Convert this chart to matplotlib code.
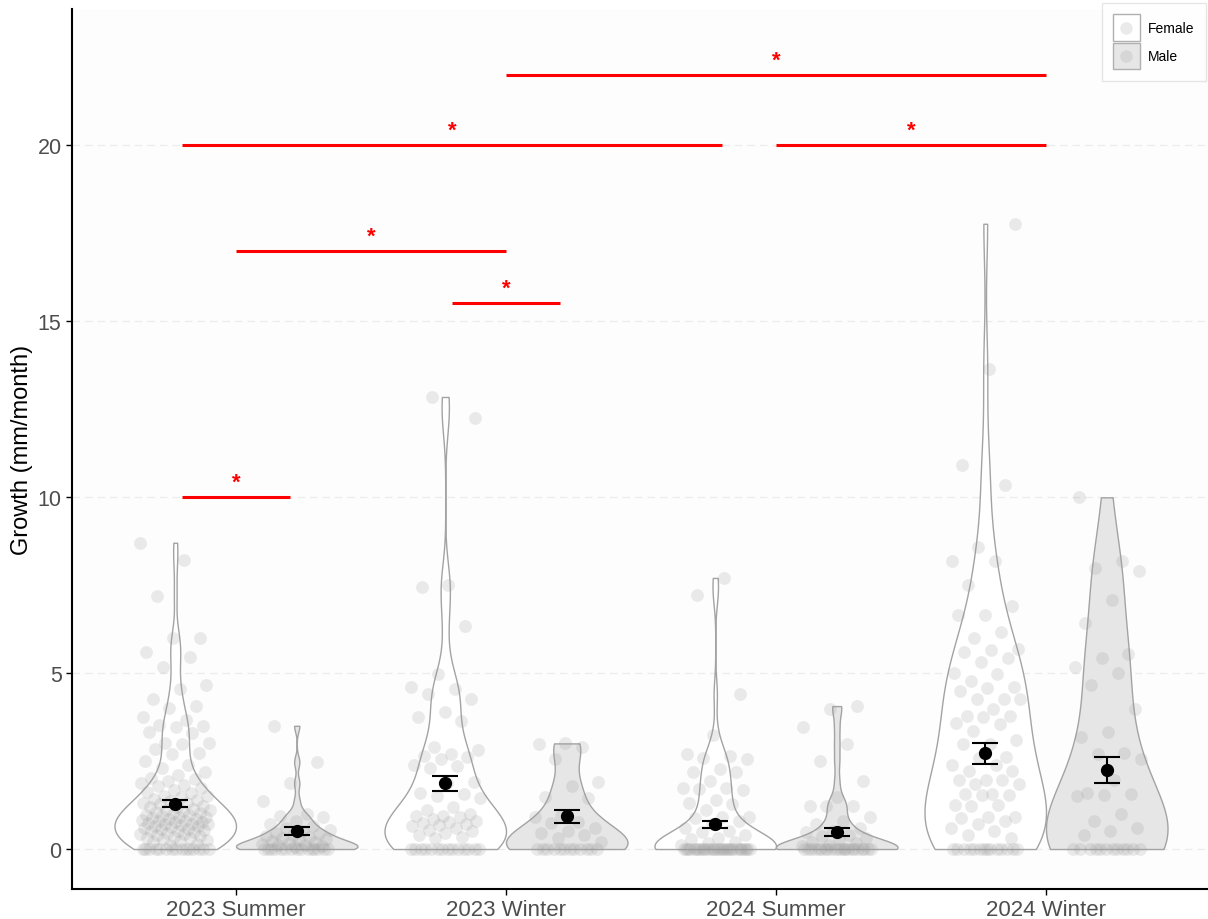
import numpy as np
import matplotlib
matplotlib.use("Agg")
import matplotlib.pyplot as plt
from matplotlib.patches import Patch, Rectangle
from matplotlib.lines import Line2D
from matplotlib.legend_handler import HandlerBase

plt.rcParams['font.family'] = ['Liberation Sans', 'DejaVu Sans']

# --- Data ---
seasons = ["2023 Summer", "2023 Winter", "2024 Summer", "2024 Winter"]
sexes = ["Female", "Male"]

female_2023_summer = [
    8.7, 8.2, 7.2, 6.0, 5.98, 5.6, 5.45, 5.17, 4.66, 4.55, 4.26, 4.06, 4.0, 3.75,
    3.66, 3.52, 3.5, 3.47, 3.32, 3.3, 3.02, 3.0, 2.98, 2.84, 2.72, 2.7, 2.5,
    2.4, 2.3, 2.2, 2.1, 2.02, 1.98, 1.92, 1.88, 1.82, 1.78, 1.72, 1.68, 1.62, 1.58,
    1.52, 1.5, 1.47, 1.42, 1.4, 1.37, 1.32, 1.3, 1.27, 1.22, 1.2, 1.18, 1.15, 1.12,
    1.1, 1.08, 1.05, 1.02, 1.0, 0.98, 0.96, 0.94, 0.92, 0.9, 0.88, 0.86, 0.84, 0.82,
    0.8, 0.8, 0.78, 0.76, 0.74, 0.72, 0.7, 0.7, 0.68, 0.66, 0.64, 0.62, 0.6, 0.58,
    0.56, 0.54, 0.52, 0.5, 0.48, 0.46, 0.44, 0.42, 0.4, 0.38, 0.35, 0.32, 0.3, 0.28,
    0.25, 0.22, 0.2, 0.15, 0.1,
    0, 0, 0, 0, 0, 0, 0, 0, 0, 0, 0, 0, 0, 0, 0]
male_2023_summer = [
    3.5, 2.47, 1.87, 1.36, 1.0, 0.95, 0.9, 0.8, 0.7, 0.65, 0.6, 0.55, 0.5, 0.45,
    0.42, 0.4, 0.38, 0.35, 0.3, 0.28, 0.25, 0.22, 0.2, 0.18, 0.15, 0.12, 0.1, 0.08,
    0.05, 0, 0, 0, 0, 0, 0, 0, 0, 0, 0, 0, 0, 0, 0, 0]
female_2023_winter = [
    12.84, 12.24, 7.5, 7.45, 6.34, 4.97, 4.6, 4.55, 4.4, 4.26, 3.9, 3.75, 3.64,
    2.9, 2.8, 2.7, 2.65, 2.6, 2.55, 2.4, 2.35, 2.3, 1.9, 1.88, 1.6, 1.55, 1.5,
    1.45, 1.2, 1.1, 1.0, 0.95, 0.93, 0.9, 0.85, 0.8, 0.78, 0.75, 0.7, 0.68, 0.65,
    0.6, 0.55, 0.5, 0.45, 0.4, 0.35, 0.3,
    0, 0, 0, 0, 0, 0, 0, 0, 0, 0, 0, 0, 0, 0]
male_2023_winter = [
    3.0, 2.98, 2.9, 2.56, 1.9, 1.8, 1.47, 1.45, 0.95, 0.9, 0.77, 0.75, 0.6, 0.5,
    0.45, 0.4, 0.3, 0.2, 0, 0, 0, 0, 0, 0, 0, 0, 0, 0, 0, 0]
female_2024_summer = [
    7.7, 7.22, 4.4, 3.24, 2.7, 2.64, 2.58, 2.55, 2.27, 2.2, 2.18, 1.93, 1.74, 1.72,
    1.7, 1.68, 1.4, 1.3, 1.28, 1.1, 0.92, 0.9, 0.88, 0.8, 0.7, 0.6, 0.5, 0.48, 0.4,
    0.3, 0.28, 0.2, 0.18, 0.1,
    0, 0, 0, 0, 0, 0, 0, 0, 0, 0, 0, 0, 0, 0, 0,
    0, 0, 0, 0, 0, 0, 0, 0, 0, 0, 0, 0, 0, 0, 0]
male_2024_summer = [
    4.06, 3.97, 3.47, 2.98, 2.5, 1.93, 1.47, 1.23, 1.23, 1.22, 0.9, 0.8, 0.7, 0.6,
    0.5, 0.48, 0.4, 0.38, 0.3, 0.28, 0.2, 0.18, 0.1, 0.08,
    0, 0, 0, 0, 0, 0, 0, 0, 0, 0, 0, 0, 0, 0, 0, 0, 0, 0, 0, 0, 0, 0]
female_2024_winter = [
    17.76, 13.64, 10.9, 10.33, 8.58, 8.19, 8.17, 7.5, 6.9, 6.66, 6.64, 6.16, 5.98,
    5.68, 5.66, 5.6, 5.44, 5.3, 4.99, 4.97, 4.78, 4.6, 4.58, 4.5, 4.27, 4.26, 4.25,
    3.98, 3.78, 3.77, 3.76, 3.57, 3.55, 3.35, 3.1, 2.99, 2.98, 2.6, 2.58, 2.39,
    2.38, 2.22, 2.21, 1.97, 1.96, 1.95, 1.85, 1.84, 1.55, 1.55, 1.54, 1.53, 1.25,
    1.24, 1.23, 0.9, 0.9, 0.88, 0.8, 0.7, 0.6, 0.5, 0.4, 0.3,
    0, 0, 0, 0, 0, 0, 0, 0, 0, 0, 0, 0, 0, 0]
male_2024_winter = [
    9.99, 8.17, 7.98, 7.9, 7.06, 6.42, 5.54, 5.44, 5.17, 4.99, 4.67, 3.98, 3.32,
    3.17, 2.72, 2.7, 2.57, 1.97, 1.6, 1.55, 1.54, 1.5, 0.99, 0.8, 0.6, 0.5, 0.4,
    0, 0, 0, 0, 0, 0, 0, 0, 0, 0, 0, 0]

female_groups = [female_2023_summer, female_2023_winter, female_2024_summer, female_2024_winter]
male_groups = [male_2023_summer, male_2023_winter, male_2024_summer, male_2024_winter]

# mean +/- SE
female_means = [1.29, 1.87, 0.70, 2.72]
female_se = [0.11, 0.21, 0.10, 0.30]
male_means = [0.52, 0.93, 0.48, 2.25]
male_se = [0.11, 0.18, 0.12, 0.37]

# significance bars (x start, x end, height)
sig_start = [0.8, 1.8, 1.0, 0.8, 3.0, 2.0]
sig_end = [1.2, 2.2, 2.0, 2.8, 4.0, 4.0]
sig_y = [10, 15.5, 17, 20, 20, 22]


def kde_outline(vals, n=512):
    # gaussian kde with R's bw.nrd0, trimmed to data range
    v = np.asarray(vals, float)
    sd = v.std(ddof=1)
    iqr = np.subtract(*np.percentile(v, [75, 25]))
    lo = min(sd, iqr / 1.34) if iqr > 0 else sd
    bw = 0.9 * lo * len(v) ** -0.2
    grid = np.linspace(v.min(), v.max(), n)
    dens = np.exp(-0.5 * ((grid[:, None] - v[None, :]) / bw) ** 2).sum(1)
    return grid, dens / dens.max()


class KeyHandler(HandlerBase):
    # square key with a faint point in the middle
    def create_artists(self, legend, orig_handle, xdescent, ydescent,
                       width, height, fontsize, trans):
        r = Rectangle((-xdescent, -ydescent), width, height,
                      facecolor=orig_handle.get_facecolor(),
                      edgecolor='#b0b0b0', linewidth=1.0, transform=trans)
        c = Line2D([width / 2 - xdescent], [height / 2 - ydescent], marker='o',
                   ls='', ms=9, mfc='#999999', mec='none', alpha=0.2,
                   transform=trans)
        return [r, c]


fig = plt.figure(figsize=(12.08, 9.2), dpi=100)
ax = fig.add_axes([0.0596, 0.0326, 0.9404, 0.9565])
ax.set_facecolor('#fdfdfd')

fills = ['white', '#e6e6e6']
dodge = [-0.225, 0.225]
half_width = 0.225
jitter = 0.13

for i in range(len(seasons)):
    for j, groups in enumerate([female_groups, male_groups]):
        vals = np.asarray(groups[i], float)
        xc = i + 1 + dodge[j]
        y, d = kde_outline(vals)
        hw = d * half_width
        ax.fill_betweenx(y, xc - hw, xc + hw, facecolor=fills[j],
                         edgecolor='#a3a3a3', linewidth=1.0, zorder=2)
        # deterministic jitter
        k = np.arange(len(vals))
        offs = ((k * 0.6180339887 + 0.31 * i + 0.17 * j) % 1.0 - 0.5) * 2 * jitter
        ax.scatter(xc + offs, vals, s=85, color='#999999', alpha=0.2,
                   linewidths=0, zorder=3)

means = [female_means, male_means]
ses = [female_se, male_se]
for j in range(2):
    xs = np.arange(1, len(seasons) + 1) + dodge[j]
    ax.errorbar(xs, means[j], yerr=ses[j], fmt='o', color='black', ms=8.5,
                capsize=9.5, elinewidth=1.5, capthick=1.5, zorder=5)

for s, e, h in zip(sig_start, sig_end, sig_y):
    ax.plot([s, e], [h, h], color='red', lw=2.2, zorder=6, solid_capstyle='butt')
    ax.text((s + e) / 2, h + 0.12, '*', color='red', ha='center', va='bottom',
            fontsize=16, fontweight='bold', zorder=6)

ax.set_xlim(0.3926, 4.6)
ax.set_ylim(-1.136, 23.86)
ax.set_yticks([0, 5, 10, 15, 20])
ax.set_xticks(range(1, len(seasons) + 1))
ax.set_xticklabels(seasons)
ax.yaxis.grid(True, linestyle=(0, (6, 4)), color='#ececec', linewidth=0.9)
ax.set_axisbelow(True)
for side in ['top', 'right']:
    ax.spines[side].set_visible(False)
for side in ['left', 'bottom']:
    ax.spines[side].set_linewidth(1.5)
    ax.spines[side].set_color('black')
ax.tick_params(axis='x', labelsize=16, labelcolor='#4d4d4d', length=4, width=1)
ax.tick_params(axis='y', labelsize=15.5, labelcolor='#4d4d4d', length=4, width=1)
ax.set_ylabel("Growth (mm/month)", fontsize=17, labelpad=3)

handles = [Patch(facecolor='white'), Patch(facecolor='#e6e6e6')]
leg = fig.legend(handles, sexes, loc='upper right', bbox_to_anchor=(1.004, 1.003),
                 handler_map={Patch: KeyHandler()},
                 frameon=True, fancybox=False, edgecolor='#e0e0e0', fontsize=10,
                 handlelength=1.95, handleheight=2.6, labelspacing=0.1,
                 borderpad=0.8, handletextpad=0.6)

fig.savefig('out.png', dpi=100, facecolor='white')
